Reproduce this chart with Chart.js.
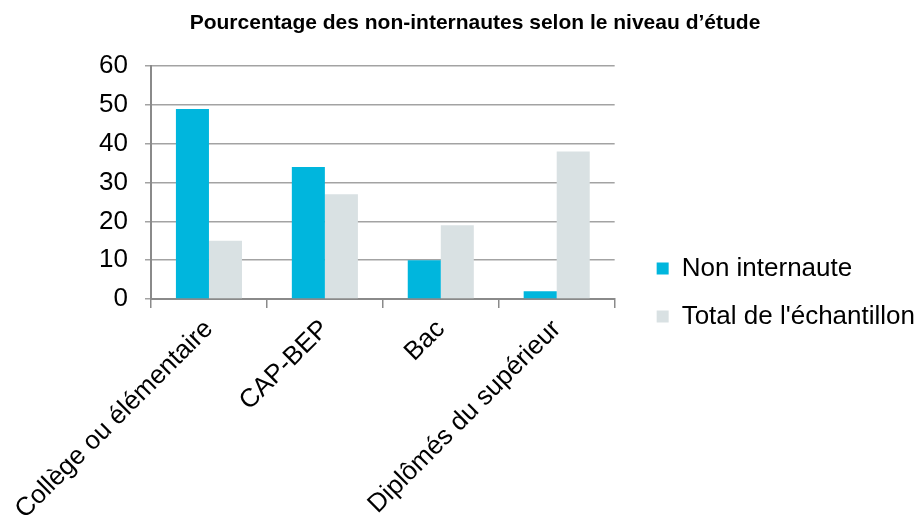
<!DOCTYPE html>
<html>
<head>
<meta charset="utf-8">
<style>
  html, body { margin: 0; padding: 0; background: #ffffff; }
  #wrap { width: 920px; height: 519px; position: relative; }
</style>
<script src="https://cdn.jsdelivr.net/npm/chart.js@4.4.1/dist/chart.umd.min.js"></script>
</head>
<body>
<div id="wrap"><canvas id="c" width="920" height="519"></canvas></div>
<script>
const categories = ["Collège ou élémentaire", "CAP-BEP", "Bac", "Diplômés du supérieur"];
const nonInternaute = [49, 34, 10, 2];
const totalEchantillon = [15, 27, 19, 38];
const seriesNames = ["Non internaute", "Total de l'échantillon"];
const titleText = "Pourcentage des non-internautes selon le niveau d’étude";

const FONT = "'Liberation Sans', Arial, Helvetica, sans-serif";

// Legend area starts below the title (like the original), items centred in it.
const legendBelowTitle = {
  id: 'legendBelowTitle',
  afterLayout(chart) {
    const lg = chart.legend, tb = chart.titleBlock;
    if (lg && tb) {
      const bottom = lg.bottom;
      lg.top = tb.bottom;
      lg.height = bottom - lg.top;
      lg.bottom = bottom;
    }
  }
};

new Chart(document.getElementById('c'), {
  type: 'bar',
  data: {
    labels: categories,
    datasets: [
      { label: seriesNames[0], data: nonInternaute, backgroundColor: '#00B6DD', borderWidth: 0,
        categoryPercentage: 0.57, barPercentage: 1.0 },
      { label: seriesNames[1], data: totalEchantillon, backgroundColor: '#D9E1E3', borderWidth: 0,
        categoryPercentage: 0.57, barPercentage: 1.0 }
    ]
  },
  plugins: [legendBelowTitle],
  options: {
    responsive: false,
    animation: false,
    devicePixelRatio: 1,
    layout: { padding: { left: 25, right: -5, top: 0, bottom: 0 } },
    plugins: {
      title: {
        display: true,
        text: titleText,
        color: '#000',
        font: { family: FONT, size: 21, weight: 'bold' },
        padding: { top: 11, bottom: 30 }
      },
      legend: {
        display: true,
        position: 'right',
        maxWidth: 320,
        labels: {
          color: '#000',
          font: { family: FONT, size: 26 },
          boxWidth: 12,
          boxHeight: 12,
          padding: 22
        }
      },
      tooltip: { enabled: false }
    },
    scales: {
      x: {
        grid: { display: true, drawOnChartArea: false, drawTicks: true, tickLength: 9, color: '#8a8a8a', lineWidth: 1.5, offset: true },
        border: { display: true, color: '#8a8a8a', width: 2 },
        ticks: {
          color: '#000',
          font: { family: FONT, size: 26 },
          maxRotation: 45, minRotation: 45,
          autoSkip: false,
          padding: 6
        },
        afterFit: (s) => { s.height = 220; s.paddingLeft = 0; s.paddingRight = 0; }
      },
      y: {
        min: 0, max: 60,
        ticks: { stepSize: 10, color: '#000', font: { family: FONT, size: 26 }, padding: 17 },
        grid: { color: '#a3a3a3', lineWidth: 1.5, tickLength: 6, drawTicks: true },
        border: { display: true, color: '#8a8a8a', width: 2 },
        afterFit: (s) => { s.width = 126; s.paddingTop = 0; s.paddingBottom = 0; }
      },
      ySpacer: {
        type: 'linear',
        position: 'right',
        display: true,
        grid: { display: false, drawTicks: false },
        border: { display: false },
        ticks: { display: false },
        afterFit: (s) => { s.width = 20; }
      }
    }
  }
});
</script>
</body>
</html>
